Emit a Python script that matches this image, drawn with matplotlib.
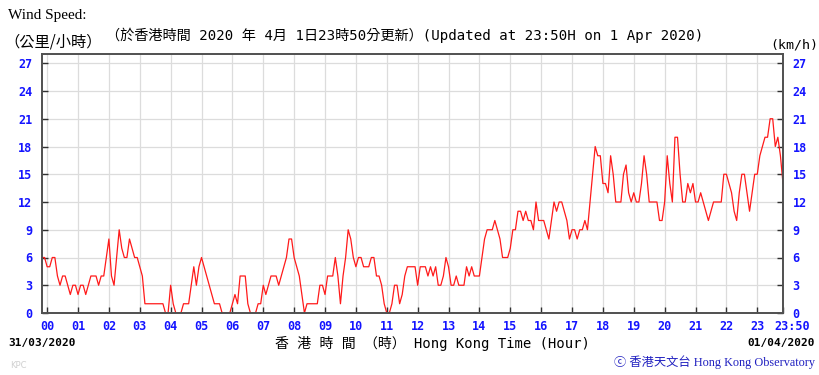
import numpy as np
import matplotlib
matplotlib.use('Agg')
import matplotlib.pyplot as plt
import matplotlib.transforms as mtransforms

# wind speed (km/h), 5-minute readings from 23:50 on 31/03 to 23:50 on 01/04
spd_pre = [6, 6]  # 23:50, 23:55
spd_h = [
    [5, 5, 6, 6, 4, 3, 4, 4, 3, 2, 3, 3],          # 00
    [2, 3, 3, 2, 3, 4, 4, 4, 3, 4, 4, 6],          # 01
    [8, 4, 3, 6, 9, 7, 6, 6, 8, 7, 6, 6],          # 02
    [5, 4, 1, 1, 1, 1, 1, 1, 1, 1, 0, 0],          # 03
    [3, 1, 0, 0, 0, 1, 1, 1, 3, 5, 3, 5],          # 04
    [6, 5, 4, 3, 2, 1, 1, 1, 0, 0, 0, 0],          # 05
    [1, 2, 1, 4, 4, 4, 1, 0, 0, 0, 1, 1],          # 06
    [3, 2, 3, 4, 4, 4, 3, 4, 5, 6, 8, 8],          # 07
    [6, 5, 4, 2, 0, 1, 1, 1, 1, 1, 3, 3],          # 08
    [2, 4, 4, 4, 6, 4, 1, 4, 6, 9, 8, 6],          # 09
    [5, 6, 6, 5, 5, 5, 6, 6, 4, 4, 3, 1],          # 10
    [0, 0, 1, 3, 3, 1, 2, 4, 5, 5, 5, 5],          # 11
    [3, 5, 5, 5, 4, 5, 4, 5, 3, 3, 4, 6],          # 12
    [5, 3, 3, 4, 3, 3, 3, 5, 4, 5, 4, 4],          # 13
    [4, 6, 8, 9, 9, 9, 10, 9, 8, 6, 6, 6],         # 14
    [7, 9, 9, 11, 11, 10, 11, 10, 10, 9, 12, 10],  # 15
    [10, 10, 9, 8, 10, 12, 11, 12, 12, 11, 10, 8], # 16
    [9, 9, 8, 9, 9, 10, 9, 12, 15, 18, 17, 17],    # 17
    [14, 14, 13, 17, 15, 12, 12, 12, 15, 16, 13, 12],  # 18
    [13, 12, 12, 14, 17, 15, 12, 12, 12, 12, 10, 10],  # 19
    [12, 17, 14, 12, 19, 19, 15, 12, 12, 14, 13, 14],  # 20
    [12, 12, 13, 12, 11, 10, 11, 12, 12, 12, 12, 15],  # 21
    [15, 14, 13, 11, 10, 13, 15, 15, 13, 11, 13, 15],  # 22
    [15, 17, 18, 19, 19, 21, 21, 18, 19, 17, 14],      # 23 (to 23:50)
]

hour_labels = ['%02d' % h for h in range(24)] + ['23:50']
hour_pos = list(range(24)) + [23 + 50 / 60]
y_ticks = list(range(0, 28, 3))

speed = np.array(spd_pre + [v for row in spd_h for v in row], dtype=float)
t = -10 / 60 + np.arange(len(speed)) * 5 / 60

BLUE = '#1414ff'
W, H = 820, 375

fig = plt.figure(figsize=(W / 100, H / 100), dpi=100)
ax = fig.add_axes([42 / W, 1 - 313 / H, (783 - 42) / W, (313 - 54) / H])

ax.plot(t, speed, color='#ff1a1a', linewidth=0.9)

ax.set_xlim(-10 / 60, 23 + 50 / 60)
ax.set_ylim(0, 28)
ax.set_xticks(hour_pos)
ax.set_xticklabels(hour_labels)
ax.set_yticks(y_ticks)
ax.grid(True, color='#dcdcdc', linewidth=0.9)
ax.set_axisbelow(True)

for s in ax.spines.values():
    s.set_color('#505050')
    s.set_linewidth(1.4)

ax.tick_params(axis='both', direction='in', length=4, width=1, color='#303030',
               labelcolor=BLUE, labelsize=8.5)
ax.tick_params(axis='y', right=True, labelright=True, pad=7)
ax.tick_params(axis='x', pad=5)
for lab in ax.get_xticklabels() + ax.get_yticklabels():
    lab.set_fontfamily('DejaVu Sans Mono')
    lab.set_fontweight('bold')

# the last label (23:50) sits a little to the right of its tick
last = ax.get_xticklabels()[-1]
last.set_transform(last.get_transform() +
                   mtransforms.ScaledTranslation(9 / 100, 0, fig.dpi_scale_trans))

mono_cjk = ['DejaVu Sans Mono', 'Noto Sans CJK TC']


def ftext(x, y, s, **kw):
    fig.text(x / W, 1 - y / H, s, **kw)


ftext(8, 15, 'Wind Speed:', family='Liberation Serif', fontsize=11, va='center')
ftext(4, 42, '（公里/小時）', family=['Noto Sans CJK TC'], fontsize=11, va='center')
ftext(106, 35, '（於香港時間 2020 年 4月 1日23時50分更新）(Updated at 23:50H on 1 Apr 2020)',
      family=mono_cjk, fontsize=10.2, va='center')
ftext(818, 45, '(km/h)', family='DejaVu Sans Mono', fontsize=9.5, va='center', ha='right')

ftext(8, 343, '31/03/2020', family='DejaVu Sans Mono', fontweight='bold', fontsize=8,
      va='center')
ftext(815, 343, '01/04/2020', family='DejaVu Sans Mono', fontweight='bold', fontsize=8,
      va='center', ha='right')
ftext(275, 343, '香 港 時 間 （時） Hong Kong Time (Hour)', family=mono_cjk,
      fontsize=10, va='center')
ftext(10, 366, 'KPC', family='DejaVu Sans', fontsize=6, color='#d0d0d0', va='center')
ftext(815, 362, 'ⓒ 香港天文台 Hong Kong Observatory',
      family=['Liberation Serif', 'Noto Sans CJK TC', 'DejaVu Sans'],
      fontsize=8.8, color='#2020c0', va='center', ha='right')

fig.savefig('out.png', dpi=100, facecolor='white')
